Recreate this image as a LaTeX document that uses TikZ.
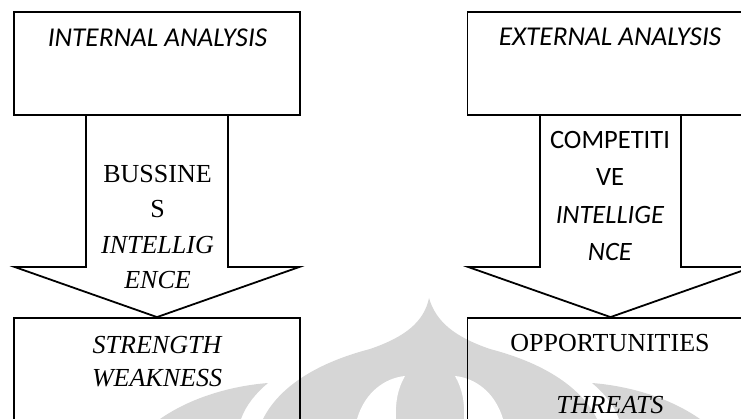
\documentclass[tikz,border=0pt]{standalone}
\usepackage{fontspec}
\setmainfont{Liberation Serif}
\newfontfamily\calibrifont{Carlito}
\definecolor{markgray}{gray}{0.84}
\begin{document}
\begin{tikzpicture}[x=1pt,y=-1pt,
  frame/.style={draw=black, line width=1.8pt, minimum width=286pt, inner sep=0pt},
  flow/.style={draw=black, line width=1.8pt, line join=miter},
  txt/.style={align=center, inner sep=0pt},
  serifA/.style={txt, font=\fontsize{26}{35.3}\selectfont},
  serifB/.style={txt, font=\fontsize{26}{33}\itshape\selectfont},
  serifC/.style={txt, font=\fontsize{26}{62}\selectfont},
  sansA/.style={txt, font=\calibrifont\fontsize{26.5}{37.3}\selectfont},
  sansT/.style={txt, font=\calibrifont\fontsize{27.2}{30}\itshape\selectfont},
  emblem/.style={fill=markgray}
]
\useasboundingbox (0,0) rectangle (741,419);
\begin{scope}
\clip (0,0) rectangle (741,419);

% faint emblem in the background
\fill[emblem] (429,298) .. controls (424,322) and (405,337) .. (370,349)
  .. controls (320,362) and (280,385) .. (263,419) -- (597,419)
  .. controls (580,385) and (540,362) .. (490,349)
  .. controls (455,337) and (436,322) .. (429,298) -- cycle;
\fill[white] (357,419) .. controls (365,392) and (385,378) .. (405,376)
  .. controls (398,388) and (395,402) .. (396,419) -- cycle;
\fill[white] (503,419) .. controls (495,392) and (475,378) .. (455,376)
  .. controls (462,388) and (465,402) .. (464,419) -- cycle;
\fill[emblem] (160,419) .. controls (190,398) and (230,386) .. (268,383)
  .. controls (256,393) and (246,405) .. (241,419) -- cycle;
\fill[emblem] (700,419) .. controls (670,398) and (630,386) .. (592,383)
  .. controls (604,393) and (614,405) .. (619,419) -- cycle;

% boxes
\node[frame, minimum height=103pt] (intop) at (157,63.5) {};
\node[frame, minimum height=103pt] (extop) at (610.5,63.5) {};
\node[frame, minimum height=112pt] (inbot) at (157,374) {};
\node[frame, minimum height=112pt] (exbot) at (610.5,374) {};

% block arrows from the analysis boxes to the results
\draw[flow] ([xshift=-71pt]intop.south) -- ([xshift=-71pt,yshift=50pt]inbot.north)
  -- ([xshift=-142pt,yshift=50pt]inbot.north) -- (inbot.north)
  -- ([xshift=142pt,yshift=50pt]inbot.north) -- ([xshift=71pt,yshift=50pt]inbot.north)
  -- ([xshift=71pt]intop.south);
\draw[flow] ([xshift=-70.5pt]extop.south) -- ([xshift=-70.5pt,yshift=50pt]exbot.north)
  -- ([xshift=-142pt,yshift=50pt]exbot.north) -- (exbot.north)
  -- ([xshift=142pt,yshift=50pt]exbot.north) -- ([xshift=70.5pt,yshift=50pt]exbot.north)
  -- ([xshift=70.5pt]extop.south);
\end{scope}

% texts
\node[sansT] (intitle) at (157.5,38) {INTERNAL ANALYSIS};
\node[sansT] (extitle) at (610,37) {EXTERNAL ANALYSIS};
\node[serifA] (bi) at (157.5,227) {BUSSINE\\S\\\textit{INTELLIG}\\\textit{ENCE}};
\node[sansA] (ci) at (610,196) {COMPETITI\\VE\\\textit{INTELLIGE}\\\textit{NCE}};
\node[serifB] (sw) at (157,361.5) {STRENGTH\\WEAKNESS};
\node[serifC] (ot) at (610,374) {OPPORTUNITIES\\\textit{THREATS}};
\end{tikzpicture}
\end{document}
